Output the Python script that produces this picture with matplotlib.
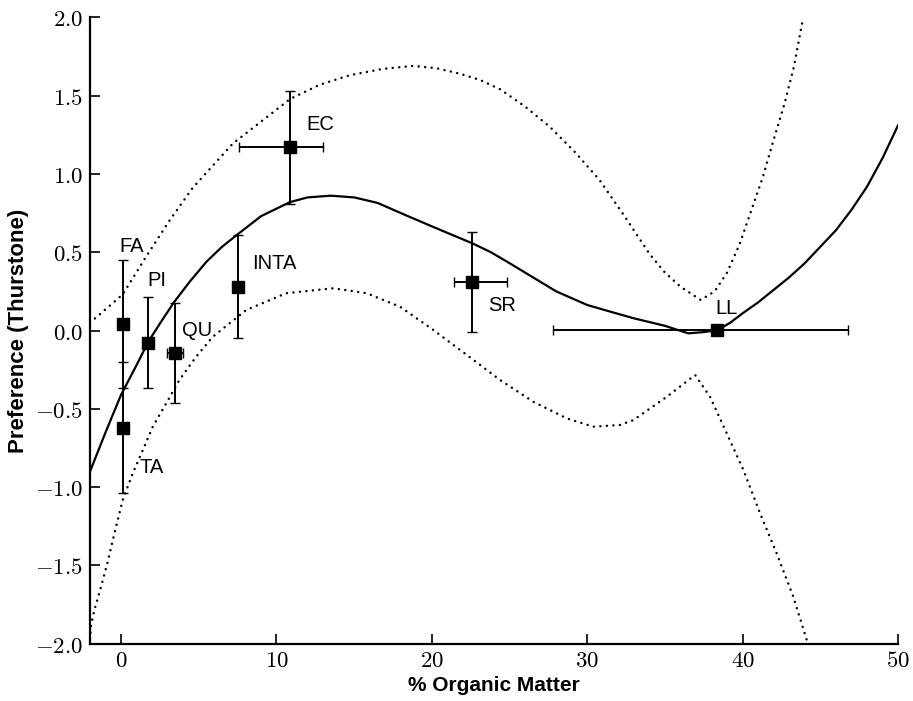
import matplotlib
matplotlib.use('Agg')
import matplotlib.pyplot as plt
from matplotlib.ticker import FuncFormatter, MultipleLocator

plt.rcParams['font.family'] = ['Liberation Sans', 'DejaVu Sans']
plt.rcParams['mathtext.fontset'] = 'cm'

# soil samples
names = ['FA', 'TA', 'PI', 'QU', 'INTA', 'EC', 'SR', 'LL']
organic = [0.1, 0.1, 1.76, 3.47, 7.5, 10.87, 22.6, 38.37]
pref = [0.04, -0.62, -0.078, -0.142, 0.28, 1.17, 0.308, 0.003]
pref_err = [0.41, 0.42, 0.29, 0.32, 0.33, 0.36, 0.32, 0.0]
om_err_lo = [0.0, 0.0, 0.0, 0.5, 0.0, 3.27, 1.17, 10.55]
om_err_hi = [0.0, 0.0, 0.0, 0.5, 0.0, 2.13, 2.22, 8.43]

# label positions (data coords, left / centre)
lab_x = [-0.1, 1.18, 1.67, 3.9, 8.41, 11.9, 23.64, 38.22]
lab_y = [0.535, -0.876, 0.32, 0.0, 0.43, 1.317, 0.157, 0.142]

# fitted curve
fit_x = [-2.0, -1.0, 0.0, 1.0, 1.76, 2.5, 3.4, 4.4, 5.5, 6.5, 7.5, 9.0,
         10.87, 12.0, 13.5, 15.0, 16.5, 18.0, 20.0, 22.6, 23.8, 25.0, 26.5,
         28.0, 30.0, 31.5, 33.0, 35.0, 36.5, 37.5, 38.4, 39.2, 40.0, 41.0,
         42.0, 43.0, 44.0, 45.0, 46.0, 47.0, 48.0, 49.0, 50.0]
fit_y = [-0.90, -0.65, -0.41, -0.22, -0.07, 0.045, 0.18, 0.31, 0.44, 0.535,
         0.614, 0.73, 0.82, 0.85, 0.861, 0.85, 0.815, 0.75, 0.665, 0.557,
         0.50, 0.43, 0.34, 0.25, 0.163, 0.12, 0.078, 0.03, -0.018, -0.01,
         0.003, 0.05, 0.11, 0.18, 0.26, 0.34, 0.43, 0.535, 0.64, 0.77, 0.918,
         1.10, 1.31]

# upper / lower dotted bands
up_x = [-2.0, 0.1, 1.6, 3.1, 4.6, 7.2, 10.9, 12.8, 14.7, 16.8, 18.8, 20.3,
        21.8, 23.1, 24.4, 26.0, 27.6, 29.2, 30.8, 32.4, 34.0, 35.0, 36.0,
        37.3, 38.2, 39.0, 39.8, 40.5, 41.3, 42.0, 42.7, 43.3, 43.9]
up_y = [0.05, 0.23, 0.47, 0.70, 0.91, 1.195, 1.48, 1.57, 1.63, 1.67, 1.69,
        1.675, 1.64, 1.60, 1.54, 1.43, 1.30, 1.14, 0.96, 0.73, 0.49, 0.37,
        0.28, 0.195, 0.25, 0.37, 0.55, 0.75, 0.98, 1.22, 1.45, 1.685, 2.0]
lo_x = [-2.0, -1.93, -1.72, -1.29, -0.86, -0.43, 0.11, 0.75, 1.40, 2.04,
        2.90, 3.75, 4.83, 5.90, 8.04, 10.62, 13.66, 15.81, 17.95, 20.10,
        22.25, 24.39, 26.53, 28.68, 30.39, 32.11, 32.97, 35.12, 36.94,
        37.90, 38.98, 40.05, 41.12, 42.19, 43.26, 44.16]
lo_y = [-1.97, -1.88, -1.785, -1.636, -1.476, -1.295, -1.08, -0.912, -0.763,
        -0.614, -0.465, -0.316, -0.167, -0.04, 0.13, 0.238, 0.27, 0.238,
        0.152, 0.003, -0.156, -0.316, -0.455, -0.561, -0.614, -0.603,
        -0.572, -0.423, -0.284, -0.423, -0.657, -0.891, -1.167, -1.423,
        -1.70, -1.987]

fig = plt.figure(figsize=(9.13, 7.01), dpi=100)
ax = fig.add_axes([0.0986, 0.0817, 0.885, 0.8936])

dots = (0, (0.01, 2.6))
ax.plot(fit_x, fit_y, color='black', lw=1.6)
ax.plot(up_x, up_y, color='black', lw=1.8, linestyle=dots,
        dash_capstyle='round')
ax.plot(lo_x, lo_y, color='black', lw=1.8, linestyle=dots,
        dash_capstyle='round')

ax.errorbar(organic, pref, yerr=pref_err, xerr=[om_err_lo, om_err_hi],
            fmt='s', color='black', ms=8, elinewidth=1.4, capsize=3.6,
            capthick=1.0, zorder=3)

for n, tx, ty in zip(names, lab_x, lab_y):
    ax.text(tx, ty, n, fontsize=14.5, ha='left', va='center')

ax.set_xlim(-2, 50)
ax.set_ylim(-2, 2)
ax.xaxis.set_major_locator(MultipleLocator(10))
ax.yaxis.set_major_locator(MultipleLocator(0.5))
ax.xaxis.set_major_formatter(FuncFormatter(lambda v, p: r'$%d$' % round(v)))
ax.yaxis.set_major_formatter(FuncFormatter(lambda v, p: r'$%.1f$' % v))
ax.tick_params(direction='in', length=7, width=1.2, labelsize=16.5,
               top=False, right=False)
ax.tick_params(axis='x', pad=4)
ax.tick_params(axis='y', pad=5)

for s in ['top', 'right']:
    ax.spines[s].set_visible(False)
for s in ['left', 'bottom']:
    ax.spines[s].set_linewidth(1.6)

ax.set_xlabel('% Organic Matter', fontsize=15, fontweight='bold', labelpad=3)
ax.set_ylabel('Preference (Thurstone)', fontsize=16, fontweight='bold',
              labelpad=4)

plt.savefig('out.png', dpi=100)
